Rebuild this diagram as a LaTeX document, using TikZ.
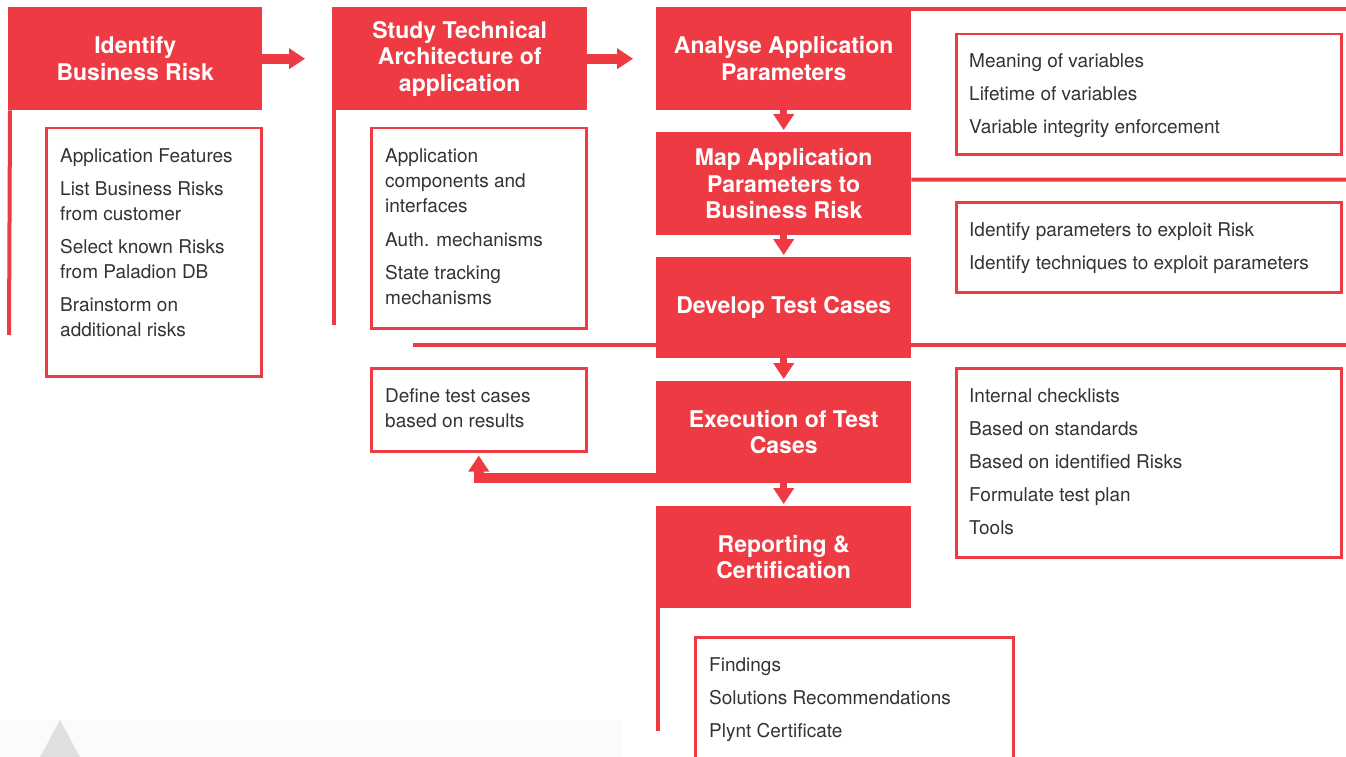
\documentclass[tikz,border=0pt]{standalone}
\usepackage{fontspec}
\setmainfont{TeX Gyre Heros}
\usetikzlibrary{arrows.meta,calc}
\definecolor{pred}{RGB}{238,59,67}
\definecolor{ptext}{RGB}{51,51,51}
\definecolor{pband}{RGB}{250,251,252}
\definecolor{ptri}{RGB}{224,224,224}
\begin{document}
\begin{tikzpicture}[x=1pt,y=-1pt,
  redbox/.style={fill=pred, draw=none, minimum width=255pt, minimum height=103pt, anchor=north west, text=white, font=\fontsize{23}{26.5}\selectfont\bfseries, align=center, inner sep=0pt},
  notebox/.style={draw=pred, line width=2.5pt, fill=white, anchor=north west, inner sep=0pt},
  notetext/.style={anchor=north west, text=ptext, font=\fontsize{19}{25}\selectfont, align=left, inner sep=0pt},
  bigarrow/.style={draw=pred, line width=10pt, -{Triangle[length=16pt,width=20pt]}},
  smallarrow/.style={draw=pred, line width=7pt, -{Triangle[length=16pt,width=20pt]}},
  sideline/.style={draw=pred, line width=4pt},
]
\useasboundingbox[fill=white] (0,0) rectangle (1346,757);

% bottom band
\fill[pband] (0,720) rectangle (623,757);
\fill[ptri] (60,720) -- (80,757) -- (40,757) -- cycle;

% side lines
\coordinate (l1end) at (9,335);
\coordinate (l2end) at (334,325);
\coordinate (l7end) at (658,731);
\coordinate (r3end) at (1346,9);
\coordinate (r4end) at (1346,179.5);
\coordinate (r5start) at (413,345);
\coordinate (r5end) at (1346,345);

% red step boxes
\node[redbox, minimum width=254pt] (b1) at (8,7) {Identify\\Business Risk};
\node[redbox] (b2) at (332,7) {Study Technical\\Architecture of\\application};
\node[redbox] (b3) at (656,7) {Analyse Application\\Parameters};
\node[redbox] (b4) at (656,132) {Map Application\\Parameters to\\Business Risk};
\draw[sideline] (r5start) -- (r5end);
\node[redbox, minimum height=101pt] (b5) at (656,257) {Develop Test Cases};
\node[redbox, minimum height=102pt] (b6) at (656,381) {Execution of Test\\Cases};
\node[redbox, minimum height=102pt] (b7) at (656,506) {Reporting \&\\Certification};

\draw[sideline] ([xshift=2pt]b1.south west) -- (l1end);
\draw[sideline] ([xshift=2pt]b2.south west) -- (l2end);
\draw[sideline] ([xshift=2pt]b7.south west) -- (l7end);
\draw[sideline] ([yshift=-2pt]b3.north east) -- (r3end);
\draw[sideline] ([yshift=4pt]b4.east) -- (r4end);

% note boxes
\node[notebox, minimum width=215pt, minimum height=248pt] (t1) at (45,127) {};
\node[notebox, minimum width=215pt, minimum height=200pt] (t2) at (370,127) {};
\node[notebox, minimum width=385pt, minimum height=120pt] (t3) at (955,33) {};
\node[notebox, minimum width=385pt, minimum height=90pt] (t4) at (955,201) {};
\node[notebox, minimum width=385pt, minimum height=189pt] (t5) at (955,367) {};
\node[notebox, minimum width=215pt, minimum height=83pt] (t6) at (370,367) {};
\node[notebox, minimum width=318pt, minimum height=140pt] (t7) at (694,636) {};

\node[notetext] (t1txt) at (60,148) {Application Features\\[8pt]List Business Risks\\from customer\\[8pt]Select known Risks\\from Paladion DB\\[8pt]Brainstorm on\\additional risks};
\node[notetext] (t2txt) at (385,148) {Application\\components and\\interfaces\\[9pt]Auth. mechanisms\\[8pt]State tracking\\mechanisms};
\node[notetext] (t3txt) at (969,53) {Meaning of variables\\[8pt]Lifetime of variables\\[8pt]Variable integrity enforcement};
\node[notetext] (t4txt) at (969,222) {Identify parameters to exploit Risk\\[8pt]Identify techniques to exploit parameters};
\node[notetext] (t5txt) at (969,388) {Internal checklists\\[8pt]Based on standards\\[8pt]Based on identified Risks\\[8pt]Formulate test plan\\[8pt]Tools};
\node[notetext] (t6txt) at (385,388) {Define test cases\\based on results};
\node[notetext] (t7txt) at (709,657) {Findings\\[8pt]Solutions Recommendations\\[8pt]Plynt Certificate};

% arrows
\draw[bigarrow, shorten >=27pt] (b1.east) -- (b2.west);
\draw[bigarrow, shorten >=23pt] (b2.east) -- (b3.west);
\draw[smallarrow, shorten >=2pt] (b3.south) -- (b4.north);
\draw[smallarrow, shorten >=2pt] (b4.south) -- (b5.north);
\draw[smallarrow, shorten >=2pt] (b5.south) -- (b6.north);
\draw[smallarrow, shorten >=2pt] (b6.south) -- (b7.north);
\draw[bigarrow, shorten >=3pt] ([yshift=-46pt]b6.west) -| (t6.south);
\end{tikzpicture}
\end{document}
